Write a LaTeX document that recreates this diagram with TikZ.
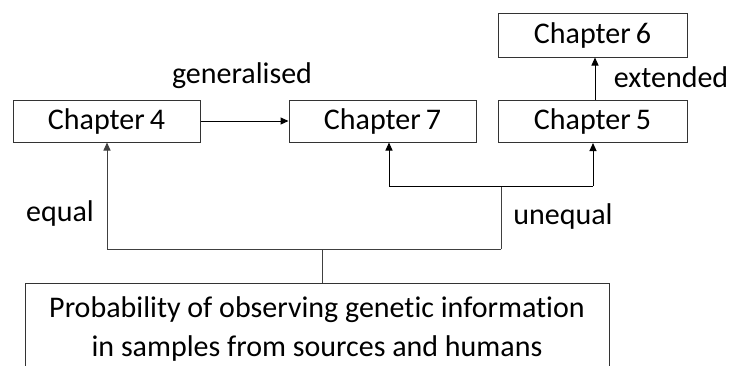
\documentclass[tikz,border=0pt]{standalone}
\usepackage{fontspec}
\setmainfont[Ligatures={NoCommon}]{Carlito}
\usetikzlibrary{arrows.meta}
\begin{document}
\begin{tikzpicture}[x=1pt,y=-1pt,
  box/.style={draw=black!80, line width=1pt, minimum height=42pt, inner sep=0pt, font=\fontsize{30}{35}\selectfont},
  lbl/.style={font=\fontsize{30}{35}\selectfont, inner sep=0pt},
  arr/.style={-{Triangle[length=8pt,width=7pt]}, line width=1pt, black},
  ln/.style={line width=1pt, black!75}]
\useasboundingbox (0,0) rectangle (733,365);
\node[box, minimum width=187pt] (c4) at (106.5,121) {Chapter\,4};
\node[box, minimum width=187pt] (c7) at (382.5,121) {Chapter\,7};
\node[box, minimum width=189pt] (c5) at (592.5,121.5) {Chapter\,5};
\node[box, minimum width=189pt, minimum height=44pt] (c6) at (592.5,35) {Chapter\,6};
\node[box, minimum width=584pt, minimum height=92pt, align=center, font=\fontsize{30}{39}\selectfont] (pr) at (317,329) {Probability of observing genetic information\\in samples from sources and humans};
\node[lbl] (gen) at (242,76) {generalised};
\node[lbl] (ext) at (671,77) {extended};
\node[lbl] (eq) at (60,213) {equal};
\node[lbl] (uneq) at (563,216) {unequal};
\coordinate (j1) at (322,249);
\coordinate (l1) at (107,249);
\coordinate (r1) at (501,249);
\coordinate (j2) at (501,186);
\coordinate (l2) at (389,186);
\coordinate (r2) at (593,186);
\draw[arr] (c4.east) -- (c7.west);
\draw[arr] (c5.north -| 595,0) -- (c6.south -| 595,0);
\draw[ln] (pr.north -| j1) -- (j1);
\draw[ln] (r1) -- (l1);
\draw[arr, black!75] (l1) -- (l1 |- c4.south);
\draw[ln] (r1) -- (j2);
\draw[ln, black] (l2) -- (r2);
\draw[arr] (l2) -- (l2 |- c7.south);
\draw[arr] (r2) -- (r2 |- c5.south);
\end{tikzpicture}
\end{document}
